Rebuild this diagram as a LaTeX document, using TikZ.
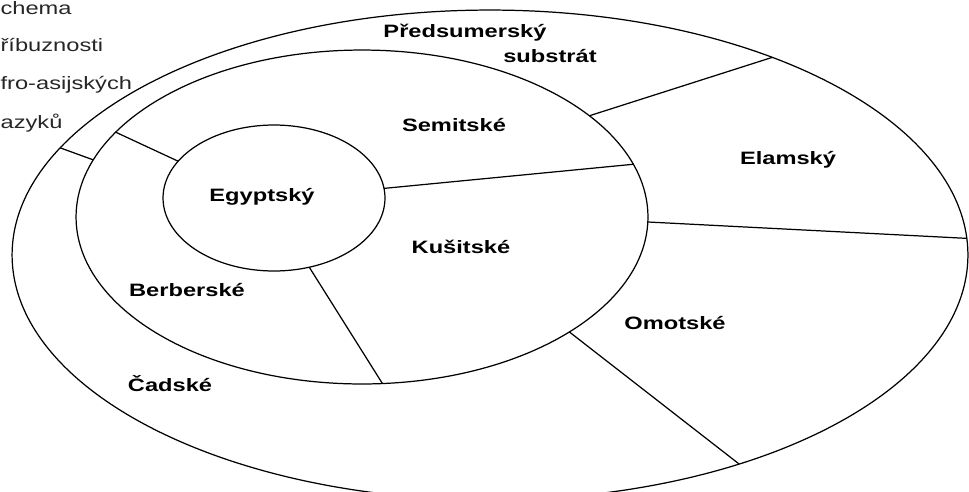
\documentclass[tikz,border=0pt]{standalone}
\usepackage{fontspec}
\setmainfont{Liberation Sans}
\newfontfamily\widesans[FakeStretch=1.32]{Liberation Sans}
\usetikzlibrary{shapes.geometric}

\tikzset{
  ring/.style={draw, ellipse, inner sep=0pt, outer sep=0pt},
  branch/.style={font=\widesans\bfseries\fontsize{10.2}{12}\selectfont},
  caption/.style={font=\widesans\fontsize{10.2}{12}\selectfont, text=black!85, anchor=base west, inner sep=0pt},
}

\begin{document}
\begin{tikzpicture}[x=0.02cm, y=-0.02cm, line width=0.7pt]
  \useasboundingbox (0,0) rectangle (969,491);
  % three rings
  \node[ring, minimum width=19.12cm, minimum height=9.8cm] (outer) at (490,255) {};
  \node[ring, minimum width=11.44cm, minimum height=6.68cm] (middle) at (362,217) {};
  \node[ring, minimum width=4.44cm, minimum height=2.92cm] (egypt) at (274,198) {};
  % borders between branches
  \draw (outer.166) -- (middle.168);
  \draw (outer.35) -- (middle.24);
  \draw (outer.2) -- (middle.-1);
  \draw (outer.-40) -- (middle.-29);
  \draw (middle.161) -- (egypt.159);
  \draw (middle.11) -- (egypt.5);
  \draw (middle.-83) -- (egypt.-63);
  % branch names
  \node[branch] (presum) at (465,33) {Předsumerský};
  \node[branch] (substr) at (550,56) {substrát};
  \node[branch] (semit) at (454,125) {Semitské};
  \node[branch] (elam) at (788,160) {Elamský};
  \node[branch] (egyptname) at (262,197) {Egyptský};
  \node[branch] (kusit) at (461,247) {Kušitské};
  \node[branch] (berber) at (187,290) {Berberské};
  \node[branch] (omot) at (675,323) {Omotské};
  \node[branch] (cad) at (170,384) {Čadské};
  % caption, cut at the left edge
  \node[caption] (cap1) at (0,14) {chema};
  \node[caption] (cap2) at (0,51) {říbuznosti};
  \node[caption] (cap3) at (0,89) {fro-asijských};
  \node[caption] (cap4) at (0,128) {azyků};
\end{tikzpicture}
\end{document}
